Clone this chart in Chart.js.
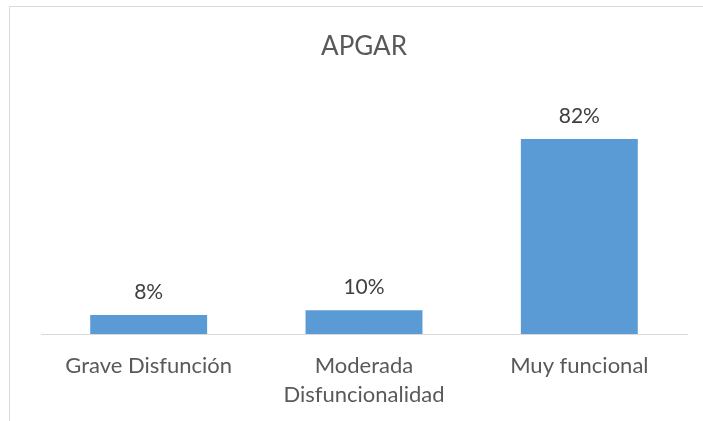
<!DOCTYPE html>
<html>
<head>
<meta charset="utf-8">
<script src="https://cdn.jsdelivr.net/npm/chart.js@4"></script>
<style>
  html, body { margin: 0; padding: 0; background: #fff; }
  #wrap { width: 703px; height: 421px; }
</style>
</head>
<body>
<div id="wrap"><canvas id="apgarChart" width="703" height="421"></canvas></div>
<script>
// datos del gráfico
const categorias = ['Grave Disfunción', ['Moderada', 'Disfuncionalidad'], 'Muy funcional'];
const porcentajes = [8, 10, 82];
const etiquetas = ['8%', '10%', '82%'];

// marco gris del gráfico (sale fuera de la imagen por derecha y abajo)
const marco = {
  id: 'marco',
  beforeDraw(chart) {
    const c = chart.ctx;
    c.save();
    c.strokeStyle = '#d9d9d9';
    c.lineWidth = 1;
    c.beginPath();
    c.moveTo(9.5, 430);
    c.lineTo(9.5, 6.5);
    c.lineTo(720, 6.5);
    c.stroke();
    c.restore();
  }
};

// etiquetas de valor encima de cada barra
const valores = {
  id: 'valores',
  afterDatasetsDraw(chart) {
    const c = chart.ctx;
    const meta = chart.getDatasetMeta(0);
    c.save();
    c.font = '21px Lato';
    c.fillStyle = '#404040';
    c.textAlign = 'center';
    c.textBaseline = 'middle';
    meta.data.forEach((bar, i) => {
      c.fillText(etiquetas[i], bar.x, bar.y - 23);
    });
    c.restore();
  }
};

new Chart(document.getElementById('apgarChart'), {
  type: 'bar',
  data: {
    labels: categorias,
    datasets: [{
      data: porcentajes,
      backgroundColor: '#5b9bd5',
      borderWidth: 0,
      categoryPercentage: 1,
      barPercentage: 0.543
    }]
  },
  options: {
    responsive: false,
    animation: false,
    layout: { padding: { left: 41, right: 16, top: 0, bottom: 0 } },
    plugins: {
      legend: { display: false },
      tooltip: { enabled: false },
      title: {
        display: true,
        text: 'APGAR',
        color: '#595959',
        font: { family: 'Lato', size: 26, weight: 'normal', lineHeight: 1.2 },
        padding: { top: 31, bottom: 34 }
      }
    },
    scales: {
      x: {
        grid: { display: false, drawTicks: false },
        border: { display: true, color: '#d9d9d9', width: 1 },
        ticks: {
          color: '#595959',
          font: { family: 'Lato', size: 22, lineHeight: 1.32 },
          padding: 17,
          maxRotation: 0,
          autoSkip: false
        },
        afterFit(scale) { scale.height = 87; }
      },
      y: {
        display: false,
        min: 0,
        max: 100
      }
    }
  },
  plugins: [marco, valores]
});
</script>
</body>
</html>
